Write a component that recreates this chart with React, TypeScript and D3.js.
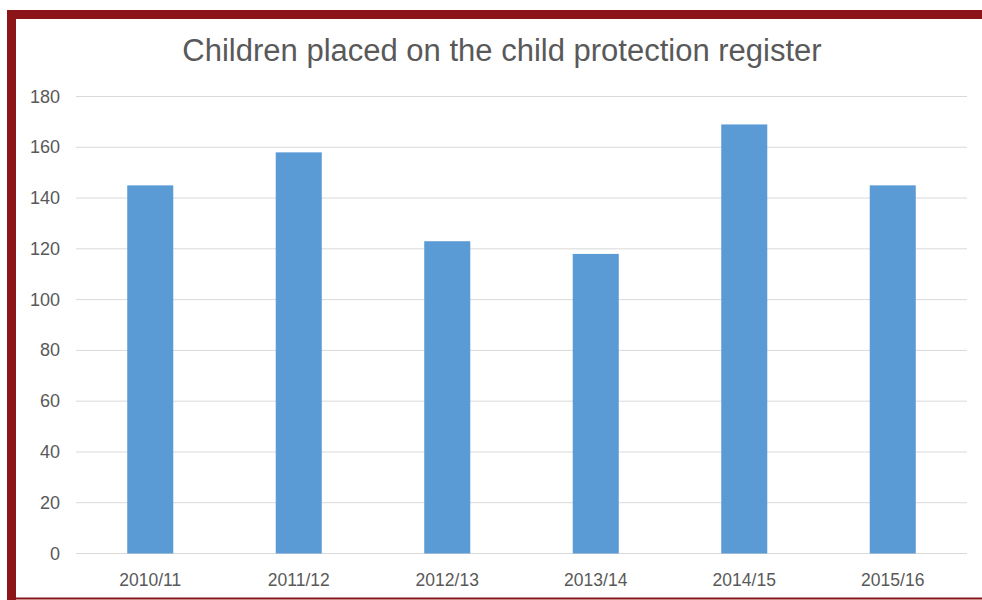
import React from "react";
import * as d3 from "d3";

const categories = ["2010/11", "2011/12", "2012/13", "2013/14", "2014/15", "2015/16"];
const values = [145, 158, 123, 118, 169, 145];
const yTicks = [0, 20, 40, 60, 80, 100, 120, 140, 160, 180];
const title = "Children placed on the child protection register";

export default function App() {
  const W = 982, H = 600;
  const left = 76, right = 967, top = 96.5, bottom = 553.5;
  const x = d3.scaleBand<string>().domain(categories).range([left, right]).paddingInner(0.69).paddingOuter(0.345);
  const y = d3.scaleLinear().domain([0, 180]).range([bottom, top]);
  const font = "Arial, 'Liberation Sans', sans-serif";
  return (
    <svg width={W} height={H} style={{ position: "absolute", left: 0, top: 0 }}>
      <rect x={0} y={0} width={W} height={H} fill="#fff" />
      <rect x={7} y={10} width={W - 7} height={9} fill="#8B1519" />
      <rect x={7} y={10} width={9} height={H - 10} fill="#8B1519" />
      <rect x={7} y={597.5} width={W - 7} height={2} fill="#8B1519" />
      <text x={502} y={61} textAnchor="middle" fontFamily={font} fontSize={31} fill="#595959">{title}</text>
      {yTicks.map((t) => (
        <g key={t}>
          <line x1={left} x2={right} y1={y(t)} y2={y(t)} stroke="#d9d9d9" strokeWidth={1} />
          <text x={60} y={y(t) + 6} textAnchor="end" fontFamily={font} fontSize={18} fill="#595959">{t}</text>
        </g>
      ))}
      {categories.map((c, i) => (
        <g key={c}>
          <rect x={x(c)} y={y(values[i])} width={x.bandwidth()} height={bottom - y(values[i])} fill="#5B9BD5" />
          <text x={(x(c) as number) + x.bandwidth() / 2} y={586} textAnchor="middle" fontFamily={font} fontSize={17.5} fill="#595959">{c}</text>
        </g>
      ))}
    </svg>
  );
}
